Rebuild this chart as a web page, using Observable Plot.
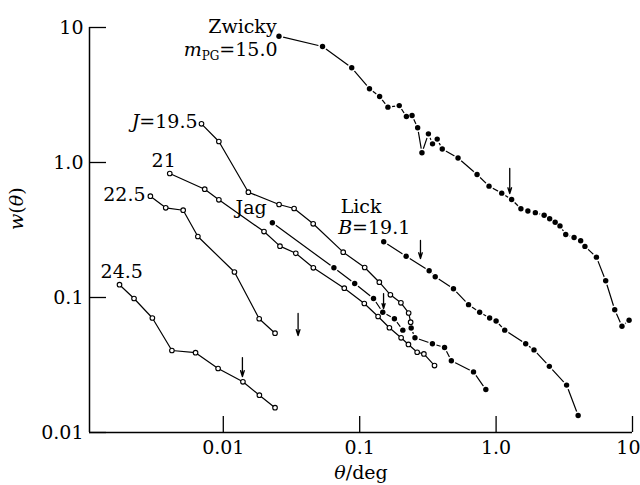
<!DOCTYPE html>
<html>
<head>
<meta charset="utf-8">
<script src="https://cdn.jsdelivr.net/npm/d3@7"></script>
<script src="https://cdn.jsdelivr.net/npm/@observablehq/plot@0.6"></script>
<style>
  html, body { margin: 0; padding: 0; background: #fff; }
  #chart svg, #chart svg text, #chart svg tspan { font-family: "DejaVu Serif", "Liberation Serif", serif !important; }
</style>
</head>
<body>
<div id="chart"></div>
<script>
// ---- Data (theta in degrees, w(theta)) ----
const zwickyTheta = [0.0256,0.0534,0.0874,0.118,0.140,0.161,0.195,0.220,0.242,0.266,0.286,0.319,0.342,0.370,0.403,0.526,0.725,0.888,1.10,1.30,1.52,1.71,1.94,2.25,2.47,2.71,2.94,3.24,3.73,4.17,4.48,5.44,6.36,7.41,8.37,9.44];
const zwickyW     = [8.62,7.23,5.03,3.52,3.08,2.57,2.64,2.19,2.23,1.81,1.18,1.63,1.375,1.49,1.26,1.08,0.815,0.668,0.593,0.532,0.454,0.437,0.425,0.407,0.383,0.361,0.339,0.293,0.278,0.263,0.239,0.199,0.133,0.0812,0.0613,0.0679];

const lickTheta = [0.150,0.219,0.323,0.358,0.487,0.628,0.758,0.897,1.00,1.157,1.648,1.896,2.457,3.287,3.995];
const lickW     = [0.2586,0.2022,0.158,0.1426,0.116,0.0885,0.0777,0.0705,0.067,0.0573,0.0454,0.0409,0.0309,0.02245,0.01336];

const jagTheta = [0.0229,0.0647,0.0919,0.1263,0.1476,0.1797,0.2071,0.2384,0.2542,0.3413,0.4189,0.470,0.683,0.841];
const jagW     = [0.3576,0.166,0.127,0.0983,0.0778,0.0696,0.0573,0.0594,0.0503,0.0454,0.0426,0.034,0.0281,0.0208];

const j195Theta = [0.00692,0.00928,0.01527,0.02564,0.03304,0.0456,0.0757,0.1088,0.1393,0.1679,0.2005,0.2285,0.2363];
const j195W     = [1.935,1.431,0.6026,0.4886,0.4563,0.3515,0.2166,0.1668,0.1298,0.1047,0.0913,0.0768,0.0656];

const j21Theta = [0.00405,0.00731,0.00928,0.01988,0.02603,0.0340,0.04573,0.0771,0.1081,0.1364,0.1651,0.2012,0.2277,0.2638,0.2955,0.3536];
const j21W     = [0.829,0.634,0.529,0.308,0.240,0.2126,0.166,0.1172,0.0903,0.0723,0.0597,0.0503,0.0449,0.0393,0.0382,0.0313];

const j225Theta = [0.00292,0.003784,0.005079,0.00651,0.01207,0.01833,0.02395];
const j225W     = [0.5627,0.4618,0.4431,0.283,0.1545,0.0696,0.0544];

const j245Theta = [0.001734,0.002216,0.00302,0.0042,0.00626,0.00916,0.01393,0.01839,0.02395];
const j245W     = [0.1244,0.0983,0.0705,0.0405,0.039,0.0298,0.02375,0.0189,0.01527];

// arrows (theta, top value, tip value)
const arrowTheta = [1.259, 0.279, 0.1496, 0.03535, 0.01381];
const arrowTop   = [0.903, 0.2644, 0.107, 0.0761, 0.0359];
const arrowTip   = [0.589, 0.1945, 0.0829, 0.0523, 0.026];

// series labels
const labelText   = ["Zwicky", "mPG=15.0", "J=19.5", "21", "22.5", "Jag", "Lick", "B=19.1", "24.5"];
const labelTheta  = [0.0246, 0.0250, 0.00648, 0.00298, 0.00269, 0.0123, 0.0725, 0.0695, 0.00126];
const labelW      = [9.18, 6.20, 1.816, 0.934, 0.523, 0.4155, 0.421, 0.293, 0.1406];
const labelAnchor = ["end", "end", "end", "start", "end", "start", "start", "start", "start"];

// axes
const xDomain = [0.001045, 10];
const yDomain = [0.01, 10];
const xTicks = [0.01, 0.1, 1, 10];
const xTickLabels = ["0.01", "0.1", "1.0", "10"];
const yTicks = [0.01, 0.1, 1, 10];
const yTickLabels = ["0.01", "0.1", "1.0", "10"];
const xTitle = "θ/deg";
const yTitle = "w(θ)";

// ---- build tables ----
const pts = (xs, ys, name) => xs.map((x, i) => ({theta: x, w: ys[i], series: name}));
const filled = [
  ...pts(zwickyTheta, zwickyW, "Zwicky"),
  ...pts(lickTheta, lickW, "Lick"),
  ...pts(jagTheta, jagW, "Jag")
];
const open = [
  ...pts(j195Theta, j195W, "19.5"),
  ...pts(j21Theta, j21W, "21"),
  ...pts(j225Theta, j225W, "22.5"),
  ...pts(j245Theta, j245W, "24.5")
];
const arrows = arrowTheta.map((t, i) => ({theta: t, top: arrowTop[i], tip: arrowTip[i]}));
const labels = labelText.map((t, i) => ({text: t, theta: labelTheta[i], w: labelW[i], anchor: labelAnchor[i]}));
const xLab = xTicks.map((t, i) => ({theta: t, text: xTickLabels[i]}));

const FONT = "DejaVu Serif";
const FS = 19;
const T = {fontFamily: FONT, fontSize: FS};

const plot = Plot.plot({
  width: 640,
  height: 485,
  marginLeft: 89,
  marginRight: 8,
  marginTop: 27,
  marginBottom: 53,
  style: {fontFamily: FONT, fontSize: FS + "px", background: "white", color: "black"},
  x: {type: "log", domain: xDomain},
  y: {type: "log", domain: yDomain},
  marks: [
    Plot.line([...filled, ...open], {x: "theta", y: "w", z: "series", stroke: "black", strokeWidth: 1.2}),
    Plot.dot(filled, {x: "theta", y: "w", r: 4.3, fill: "white", stroke: "none"}),
    Plot.dot(filled, {x: "theta", y: "w", r: 2.7, fill: "black", stroke: "none"}),
    Plot.dot(open, {x: "theta", y: "w", r: 2.3, fill: "white", stroke: "black", strokeWidth: 1.1}),
    Plot.arrow(arrows, {x1: "theta", x2: "theta", y1: "top", y2: "tip", stroke: "black", strokeWidth: 1.3, headLength: 7, headAngle: 35}),
    Plot.ruleX([xDomain[0]], {stroke: "black", strokeWidth: 1.5}),
    Plot.ruleY([yDomain[0]], {stroke: "black", strokeWidth: 1.5}),
    Plot.axisY(yTicks, {tickSize: -17, tickPadding: 23, strokeWidth: 1.3,
      tickFormat: d => yTickLabels[yTicks.indexOf(d)], label: null, ...T}),
    Plot.axisX(xTicks, {tickSize: -16, tickPadding: 0, strokeWidth: 1.3,
      tickFormat: () => "", label: null, ...T}),
    Plot.text(xLab.slice(0, 3), {x: "theta", text: "text", frameAnchor: "bottom", dy: 8, lineAnchor: "top", ...T}),
    Plot.text(xLab.slice(3), {x: "theta", text: "text", frameAnchor: "bottom", dy: 8, dx: 8, lineAnchor: "top", textAnchor: "end", ...T}),
    Plot.text(labels.filter(d => d.anchor === "end"), {x: "theta", y: "w", text: "text", textAnchor: "end", lineAnchor: "bottom", ...T}),
    Plot.text(labels.filter(d => d.anchor === "start"), {x: "theta", y: "w", text: "text", textAnchor: "start", lineAnchor: "bottom", ...T}),
    Plot.text([yTitle], {text: d => d, frameAnchor: "left", dx: -73, rotate: -90, ...T}),
    Plot.text([xTitle], {text: d => d, frameAnchor: "bottom", dy: 46, lineAnchor: "bottom", ...T})
  ]
});

// rich text: italics and subscripts
const rich = {
  "mPG=15.0": [["m", {"font-style": "italic"}], ["PG", {"font-size": "12px", "dy": "4"}], ["=15.0", {"dy": "-4"}]],
  "J=19.5": [["J", {"font-style": "italic"}], ["=19.5", {}]],
  "B=19.1": [["B", {"font-style": "italic"}], ["=19.1", {}]],
  "w(θ)": [["w", {"font-style": "italic"}], ["(", {}], ["θ", {"font-style": "italic"}], [")", {}]],
  "θ/deg": [["θ", {"font-style": "italic"}], ["/deg", {}]]
};
d3.select(plot).selectAll("text").each(function() {
  const t = this.textContent;
  if (rich[t]) {
    const sel = d3.select(this);
    sel.text(null);
    for (const [s, attrs] of rich[t]) {
      const ts = sel.append("tspan").text(s);
      for (const k in attrs) ts.attr(k, attrs[k]);
    }
  }
});

document.getElementById("chart").appendChild(plot);
</script>
</body>
</html>
